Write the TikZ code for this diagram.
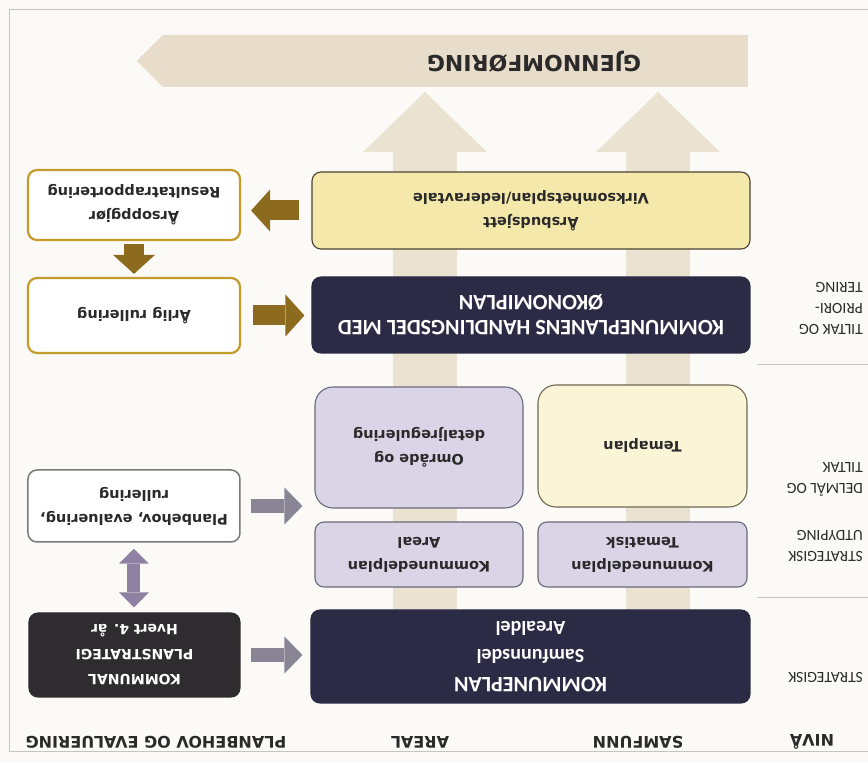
\documentclass[tikz,border=0pt]{standalone}
\usepackage{fontspec}
\setmainfont{Carlito}
\newfontfamily\boxfont{DejaVu Sans}
\usetikzlibrary{arrows.meta}

\definecolor{paper}{HTML}{FBFAF6}
\definecolor{framegray}{HTML}{C4C4C4}
\definecolor{bandbeige}{HTML}{E8DCCA}
\definecolor{shaftbeige}{HTML}{EBE3D1}
\definecolor{budsjettfill}{HTML}{F4E9AA}
\definecolor{budsjettdraw}{HTML}{4B4232}
\definecolor{navy}{HTML}{2B2B45}
\definecolor{charcoal}{HTML}{2F2C30}
\definecolor{lavender}{HTML}{D9D5E6}
\definecolor{lavenderdraw}{HTML}{6C687A}
\definecolor{cream}{HTML}{FBF5D7}
\definecolor{creamdraw}{HTML}{6E6752}
\definecolor{gold}{HTML}{C29B2B}
\definecolor{arrowbrown}{HTML}{8C6B1F}
\definecolor{arrowgray}{HTML}{8A8594}
\definecolor{arrowpurple}{HTML}{8F81A3}
\definecolor{boxgray}{HTML}{7A7A7A}
\definecolor{textdark}{HTML}{2A2A2A}

\begin{document}
\begin{tikzpicture}
[x=1pt, y=-1pt, rotate=180, transform shape,
 every node/.style={inner sep=0pt},
 planbox/.style={rounded corners=9pt, line width=1.1pt, align=center},
 smalltext/.style={text=textdark, font=\boxfont\bfseries\fontsize{14.5}{24}\selectfont},
 bigtext/.style={text=white, font=\bfseries\fontsize{22}{25}\selectfont},
 nivaa/.style={anchor=west, align=left, text=textdark, font=\fontsize{15.5}{21}\selectfont},
 header/.style={text=textdark, font=\boxfont\bfseries\fontsize{16}{19}\selectfont},
 brownarrow/.style={draw=arrowbrown, line width=20pt, -{Triangle[length=19pt, width=42pt, line width=0pt]}},
 grayarrow/.style={draw=arrowgray, line width=14pt, -{Triangle[length=18pt, width=37pt, line width=0pt]}},
 purplearrow/.style={draw=arrowpurple, line width=13pt, {Triangle[length=15pt, width=30pt, line width=0pt]}-{Triangle[length=15pt, width=30pt, line width=0pt]}},
 backarrow/.style={draw=shaftbeige, line width=64pt, -{Triangle[length=60pt, width=124pt, line width=0pt]}}]

% page and frame
\fill[paper] (0,0) rectangle (868,763);
\useasboundingbox (0,0) rectangle (868,763);
\draw[framegray, line width=1pt] (0,753) -- (858,753) -- (858,11) -- (0,11);
\draw[framegray, line width=1pt] (0,398) -- (111,398);
\draw[framegray, line width=1pt] (0,165) -- (111,165);

% background arrows
\draw[backarrow] (443,73) -- (443,671);
\draw[backarrow] (210,73) -- (210,671);
\fill[bandbeige] (120,676) -- (705,676) -- (731,702) -- (705,728) -- (120,728) -- cycle;
\node (gjennomforing) [text=textdark, font=\boxfont\bfseries\fontsize{22}{25}\selectfont] at (334,701) {GJENNOMFØRING};

% column headers
\node (nivaahead) [header] at (56,21) {NIVÅ};
\node (samfunnhead) [header] at (230,21) {SAMFUNN};
\node (arealhead) [header] at (448,21) {AREAL};
\node (planbehovhead) [header] at (712,21) {PLANBEHOV OG EVALUERING};

% levels
\node (strategisk) [nivaa] at (5,86) {STRATEGISK};
\node (utdyping) [nivaa] at (5,217.5) {STRATEGISK\\UTDYPING};
\node (delmaal) [nivaa] at (5,283) {DELMÅL OG\\TILTAK};
\node (prioritering) [nivaa] at (5,455) {TILTAK OG\\PRIORI-\\TERING};

% boxes
\node (kommuneplan) [planbox, fill=navy, draw=navy, minimum width=439pt, minimum height=93pt, text=white, font=\bfseries\fontsize{20}{28}\selectfont] at (337.5,106.5) {{\fontsize{22}{28}\selectfont KOMMUNEPLAN}\\Samfunnsdel\\Arealdel};
\node (planstrategi) [planbox, fill=charcoal, draw=charcoal, minimum width=211pt, minimum height=84pt, text=white, font=\boxfont\bfseries\fontsize{14}{25}\selectfont] at (733.5,108) {KOMMUNAL\\PLANSTRATEGI\\Hvert 4. år};
\node (kdptema) [planbox, smalltext, fill=lavender, draw=lavenderdraw, minimum width=209pt, minimum height=65pt] at (225.5,208.5) {Kommunedelplan\\Tematisk};
\node (kdpareal) [planbox, smalltext, fill=lavender, draw=lavenderdraw, minimum width=208pt, minimum height=65pt] at (449,208.5) {Kommunedelplan\\Areal};
\node (temaplan) [planbox, smalltext, rounded corners=18pt, fill=cream, draw=creamdraw, minimum width=209pt, minimum height=122pt] at (225.5,317) {Temaplan};
\node (omrade) [planbox, smalltext, rounded corners=18pt, fill=lavender, draw=lavenderdraw, minimum width=208pt, minimum height=121pt] at (449,315.5) {Område og\\detaljregulering};
\node (planbehov) [planbox, smalltext, fill=white, draw=boxgray, line width=1.5pt, minimum width=212pt, minimum height=72pt] at (734,257) {Planbehov, evaluering,\\rullering};
\node (okonomiplan) [planbox, bigtext, fill=navy, draw=navy, minimum width=438pt, minimum height=76pt] at (337,448) {KOMMUNEPLANENS HANDLINGSDEL MED\\ØKONOMIPLAN};
\node (arligrullering) [planbox, smalltext, fill=white, draw=gold, line width=2.2pt, minimum width=212pt, minimum height=75pt] at (734,447.5) {Årlig rullering};
\node (budsjett) [planbox, smalltext, fill=budsjettfill, draw=budsjettdraw, minimum width=438pt, minimum height=77pt] at (337,552.5) {Årsbudsjett\\Virksomhetsplan/lederavtale};
\node (arsoppgjor) [planbox, smalltext, fill=white, draw=gold, line width=2.2pt, minimum width=212pt, minimum height=70pt] at (734,558) {Årsoppgjør\\Resultatrapportering};

% connectors
\draw[grayarrow, shorten <=10pt, shorten >=8pt] (planstrategi.west) -- (planstrategi.west -| kommuneplan.east);
\draw[grayarrow, shorten <=10pt, shorten >=12pt] (planbehov.west) -- (planbehov.west -| omrade.east);
\draw[purplearrow, shorten <=6pt, shorten >=5pt] (planbehov.north) -- (planbehov.north |- planstrategi.south);
\draw[brownarrow, shorten <=12pt, shorten >=7pt] (arligrullering.west) -- (arligrullering.west -| okonomiplan.east);
\draw[brownarrow, shorten <=3pt, shorten >=3pt] (arsoppgjor.north) -- (arsoppgjor.north |- arligrullering.south);
\draw[brownarrow, shorten <=12pt, shorten >=10pt] (budsjett.east) -- (budsjett.east -| arsoppgjor.west);
\end{tikzpicture}
\end{document}
